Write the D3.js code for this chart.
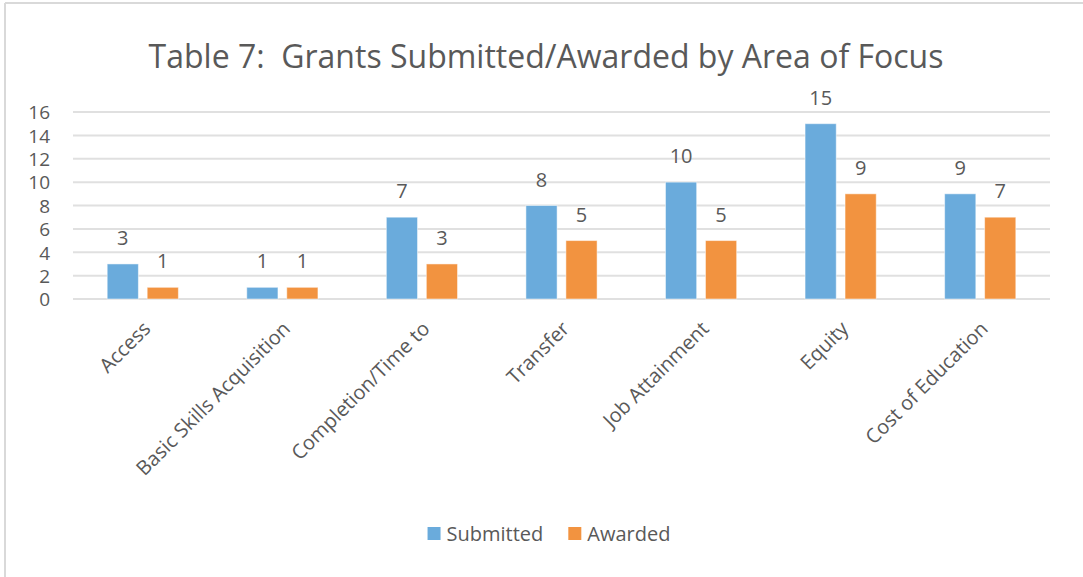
<!DOCTYPE html>
<html>
<head>
<meta charset="utf-8">
<script src="https://cdn.jsdelivr.net/npm/d3@7"></script>
<style>
  body { margin: 0; background: #fff; }
  svg text { font-family: "Open Sans", sans-serif; fill: #595959; }
</style>
</head>
<body>
<div id="chart"></div>
<script>
// data
var categories = ["Access", "Basic Skills Acquisition", "Completion/Time to", "Transfer",
  "Job Attainment", "Equity", "Cost of Education"];
var submitted = [3, 1, 7, 8, 10, 15, 9];
var awarded = [1, 1, 3, 5, 5, 9, 7];
var seriesNames = ["Submitted", "Awarded"];
var yTicks = [0, 2, 4, 6, 8, 10, 12, 14, 16];

var colors = { "Submitted": "#6aabdc", "Awarded": "#f29340" };
var seriesValues = { "Submitted": submitted, "Awarded": awarded };

var width = 1083, height = 577;

var svg = d3.select("#chart")
  .append("svg")
    .attr("width", width)
    .attr("height", height);

// chart border (top + left visible)
svg.append("line")
  .attr("x1", 5).attr("x2", width).attr("y1", 3).attr("y2", 3)
  .attr("stroke", "#d9d9d9").attr("stroke-width", 2);
svg.append("line")
  .attr("x1", 5).attr("x2", 5).attr("y1", 3).attr("y2", height)
  .attr("stroke", "#d9d9d9").attr("stroke-width", 2);

// title
svg.append("text")
  .attr("x", 546)
  .attr("y", 68)
  .attr("text-anchor", "middle")
  .attr("font-size", 32)
  .style("white-space", "pre")
  .text("Table 7:  Grants Submitted/Awarded by Area of Focus");

var plotLeft = 73, plotRight = 1050, plotTop = 112, plotBottom = 299;

var x0 = d3.scaleBand()
  .domain(categories)
  .range([plotLeft, plotRight])
  .paddingInner(0.49)
  .paddingOuter(0.245);

var x1 = d3.scaleBand()
  .domain(seriesNames)
  .range([0, x0.bandwidth()])
  .paddingInner(0.22);

var y = d3.scaleLinear()
  .domain([0, 16])
  .range([plotBottom, plotTop]);

// gridlines
svg.append("g")
  .selectAll("line")
  .data(yTicks)
  .enter().append("line")
    .attr("x1", plotLeft)
    .attr("x2", plotRight)
    .attr("y1", function(d) { return y(d); })
    .attr("y2", function(d) { return y(d); })
    .attr("stroke", "#e0e0e0")
    .attr("stroke-width", 2);

// y axis labels
var yAxis = d3.axisLeft(y).tickValues(yTicks).tickSize(0).tickPadding(0);
var yg = svg.append("g")
  .attr("transform", "translate(50,0)")
  .call(yAxis);
yg.select(".domain").remove();
yg.selectAll("text")
  .attr("font-size", 19)
  .attr("font-family", "Open Sans, sans-serif")
  .attr("fill", "#595959")
  .attr("dy", "0.36em");

// bars
var groups = svg.append("g")
  .selectAll("g")
  .data(categories)
  .enter().append("g")
    .attr("transform", function(d) { return "translate(" + x0(d) + ",0)"; });

groups.selectAll("rect")
  .data(function(d, i) {
    return seriesNames.map(function(s) { return { series: s, value: seriesValues[s][i] }; });
  })
  .enter().append("rect")
    .attr("x", function(d) { return x1(d.series); })
    .attr("y", function(d) { return y(d.value); })
    .attr("width", x1.bandwidth())
    .attr("height", function(d) { return y(0) - y(d.value); })
    .attr("fill", function(d) { return colors[d.series]; })
    .attr("stroke", "#ffffff")
    .attr("stroke-opacity", 0.5)
    .attr("stroke-width", 1);

groups.selectAll("text.val")
  .data(function(d, i) {
    return seriesNames.map(function(s) { return { series: s, value: seriesValues[s][i] }; });
  })
  .enter().append("text")
    .attr("class", "val")
    .attr("x", function(d) { return x1(d.series) + x1.bandwidth() / 2; })
    .attr("y", function(d) { return y(d.value) - 19; })
    .attr("text-anchor", "middle")
    .attr("font-size", 20)
    .attr("fill", "#404040")
    .text(function(d) { return d.value; });

// x axis category labels
var xAxis = d3.axisBottom(x0).tickSize(0).tickPadding(0);
var xg = svg.append("g")
  .attr("transform", "translate(0," + plotBottom + ")")
  .call(xAxis);
xg.select(".domain").remove();
xg.selectAll("text")
  .attr("font-size", 20)
  .attr("font-family", "Open Sans, sans-serif")
  .attr("fill", "#595959")
  .attr("text-anchor", "end")
  .attr("dy", null)
  .attr("y", 0)
  .attr("transform", "translate(9,31) rotate(-45)");

// legend
var legend = svg.append("g");
var lx = 0;
seriesNames.forEach(function(s) {
  var item = legend.append("g").attr("transform", "translate(" + lx + ",0)");
  item.append("rect")
    .attr("x", 0).attr("y", -14)
    .attr("width", 13).attr("height", 13)
    .attr("fill", colors[s]);
  var t = item.append("text")
    .attr("x", 19).attr("y", 0)
    .attr("font-size", 20)
    .text(s);
  lx += 19 + t.node().getComputedTextLength() + 25;
});
var lw = lx - 25;
legend.attr("transform", "translate(" + (549 - lw / 2) + ",541)");
</script>
</body>
</html>
